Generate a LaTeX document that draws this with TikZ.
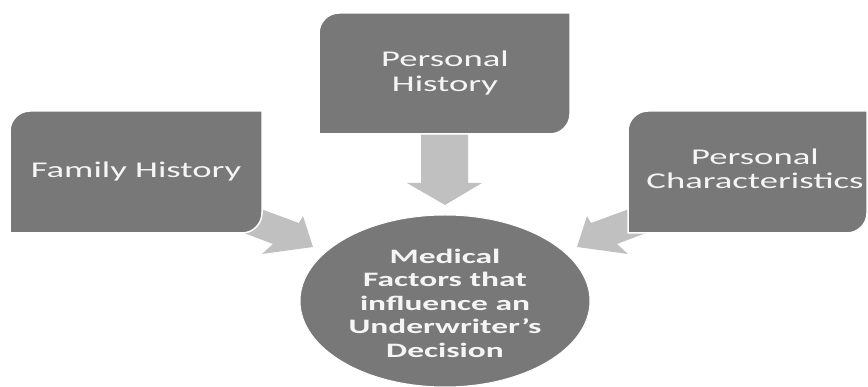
\documentclass[tikz,border=0pt]{standalone}
\usepackage{fontspec}
\setmainfont{Carlito}
\newfontfamily\widefont[FakeStretch=1.63]{Carlito}
\usetikzlibrary{shapes.geometric}
\definecolor{boxgray}{RGB}{120,120,120}
\definecolor{arrowgray}{RGB}{192,192,192}
\definecolor{txtwhite}{RGB}{245,245,245}
\newcommand\mysnipbox[4]{%
  \path[boxstyle] ({#1},{#4}) -- ({#1},{#2+20})
    .. controls ({#1},{#2+9}) and ({#1+9},{#2}) .. ({#1+20},{#2})
    -- ({#3},{#2}) -- ({#3},{#4-20})
    .. controls ({#3},{#4-9}) and ({#3-9},{#4}) .. ({#3-20},{#4}) -- cycle;}
\begin{document}
\begin{tikzpicture}[x=1pt,y=-1pt,
  boxstyle/.style={fill=boxgray, draw=white, line width=1.5pt},
  arrowshape/.style={fill=arrowgray},
  lbl/.style={text=txtwhite, align=center, inner sep=0pt,
    font=\widefont\fontsize{22.5}{24.5}\selectfont},
  centerlbl/.style={text=txtwhite, align=center, inner sep=0pt,
    font=\widefont\bfseries\fontsize{20.5}{23.5}\selectfont},
  hub/.style={ellipse, fill=boxgray, draw=white, line width=1pt,
    minimum width=290pt, minimum height=172pt, inner sep=0pt}]
\useasboundingbox (0,0) rectangle (868,387);
% arrows (under boxes)
\path[arrowshape] (250,205) -- (299,223) -- (303,216) -- (313,247)
  -- (262,254) -- (273,244) -- (236,230) -- cycle;
\path[arrowshape] (640,205) -- (591,223) -- (587,216) -- (577,247)
  -- (628,254) -- (617,244) -- (654,230) -- cycle;
\path[arrowshape] (421,128) -- (468,128) -- (468,183) -- (482,183)
  -- (445,205) -- (407,183) -- (421,183) -- cycle;
% boxes
\mysnipbox{10}{111}{262}{233}
\mysnipbox{319}{13}{570}{134}
\mysnipbox{628}{111}{867}{233}
% hub
\node[hub] (mf) at (445,301) {};
% labels
\node[lbl] (fam) at (136,172) {Family History};
\node[lbl] (ph) at (445,73) {Personal\\History};
\node[lbl] (pc) at (755,169) {Personal\\Characteristics};
\node[centerlbl] (mft) at (445,303) {Medical\\Factors that\\influence an\\Underwriter’s\\Decision};
\end{tikzpicture}
\end{document}
